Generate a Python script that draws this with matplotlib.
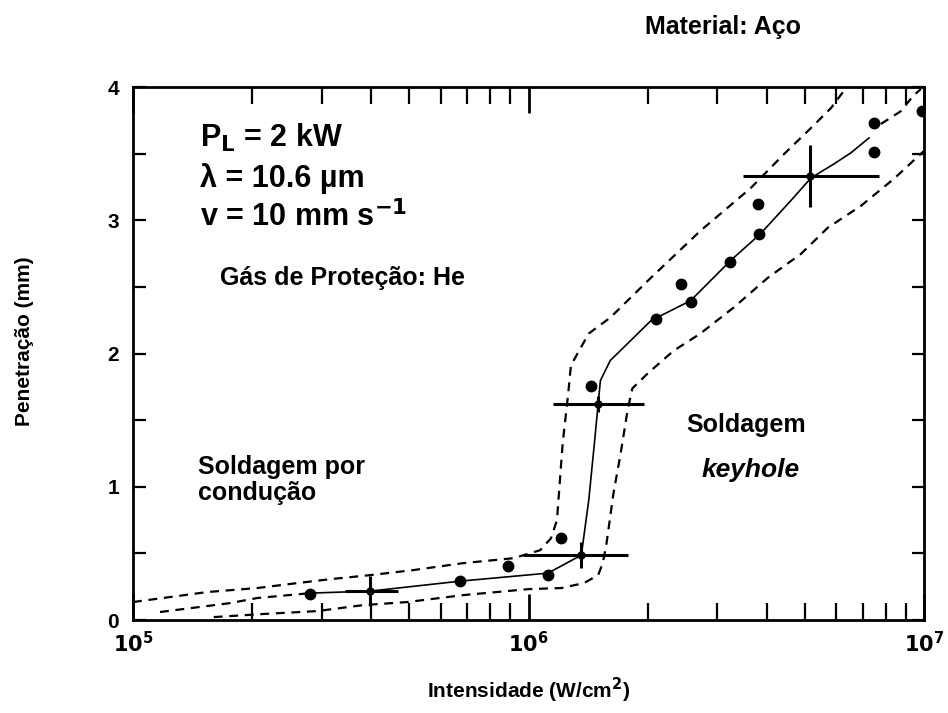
import matplotlib
matplotlib.use('Agg')
import matplotlib.pyplot as plt
from matplotlib.ticker import FixedLocator, NullFormatter

plt.rcParams['font.family'] = ['Liberation Sans', 'DejaVu Sans']
plt.rcParams['font.weight'] = 'bold'
plt.rcParams['mathtext.default'] = 'bf'

# pontos medidos
pt_int = [2.81e5, 6.73e5, 8.85e5, 1.12e6, 1.21e6, 1.44e6, 2.10e6, 2.43e6, 2.57e6,
          3.23e6, 3.82e6, 3.80e6, 7.47e6, 7.47e6, 9.89e6]
pt_pen = [0.195, 0.292, 0.404, 0.337, 0.614, 1.76, 2.26, 2.52, 2.39,
          2.69, 2.90, 3.12, 3.51, 3.73, 3.82]

# barras de erro
eb_int = [3.98e5, 1.36e6, 1.50e6, 5.14e6]
eb_lo = [3.44e5, 9.66e5, 1.15e6, 3.48e6]
eb_hi = [4.69e5, 1.78e6, 1.96e6, 7.69e6]
eb_pen = [0.217, 0.487, 1.625, 3.333]
eb_yerr = [0.11, 0.10, 0.06, 0.23]

# curva media
med_int = [2.81e5, 3.98e5, 6.73e5, 1.12e6, 1.36e6, 1.42e6, 1.47e6, 1.50e6, 1.52e6,
           1.61e6, 2.04e6, 2.57e6, 3.24e6, 3.86e6, 4.60e6, 5.18e6, 5.92e6, 6.53e6, 7.26e6]
med_pen = [0.202, 0.217, 0.292, 0.352, 0.487, 0.899, 1.348, 1.625, 1.798,
           1.948, 2.247, 2.397, 2.697, 2.899, 3.146, 3.318, 3.423, 3.506, 3.618]
ext_esq_int = [1.17e5, 1.76e5, 2.06e5, 2.81e5]
ext_esq_pen = [0.060, 0.127, 0.165, 0.202]
ext_dir_int = [7.78e6, 8.75e6, 9.38e6, 9.82e6]
ext_dir_pen = [3.723, 3.820, 3.933, 3.985]

# limites superior e inferior
sup_int = [1.00e5, 1.54e5, 2.06e5, 2.60e5, 3.16e5, 3.98e5, 5.12e5, 6.84e5, 9.16e5,
           1.07e6, 1.14e6, 1.18e6, 1.22e6, 1.26e6, 1.28e6, 1.33e6, 1.42e6, 1.61e6,
           2.04e6, 2.72e6, 3.65e6, 4.43e6, 5.18e6, 5.82e6, 6.35e6]
sup_pen = [0.135, 0.210, 0.240, 0.277, 0.307, 0.337, 0.375, 0.427, 0.464,
           0.524, 0.614, 0.749, 1.326, 1.700, 1.910, 2.000, 2.150, 2.270,
           2.569, 2.921, 3.243, 3.498, 3.693, 3.843, 3.993]
inf_int = [1.60e5, 2.13e5, 2.92e5, 3.82e5, 4.94e5, 6.84e5, 1.00e6, 1.21e6, 1.38e6,
           1.50e6, 1.54e6, 1.57e6, 1.64e6, 1.71e6, 1.78e6, 1.83e6, 2.00e6, 2.33e6,
           2.72e6, 3.30e6, 4.03e6, 4.89e6, 5.71e6, 6.93e6, 8.39e6, 1.00e7]
inf_pen = [0.022, 0.045, 0.067, 0.112, 0.135, 0.187, 0.232, 0.240, 0.277,
           0.337, 0.427, 0.547, 0.951, 1.251, 1.573, 1.738, 1.850, 2.022,
           2.150, 2.345, 2.569, 2.749, 2.944, 3.109, 3.311, 3.521]

fig = plt.figure(figsize=(9.48, 7.13), dpi=100)
ax = fig.add_axes([0.1403, 0.1304, 0.8344, 0.7475])

ax.plot(sup_int, sup_pen, color='black', lw=1.6, ls=(0, (4, 3)))
ax.plot(inf_int, inf_pen, color='black', lw=1.6, ls=(0, (4, 3)))
ax.plot(ext_esq_int, ext_esq_pen, color='black', lw=1.6, ls=(0, (4, 3)))
ax.plot(ext_dir_int, ext_dir_pen, color='black', lw=1.6, ls=(0, (4, 3)))
ax.plot(med_int, med_pen, color='black', lw=1.2)
ax.plot(pt_int, pt_pen, 'o', color='black', ms=7.5)

xerr = [[c - lo for c, lo in zip(eb_int, eb_lo)], [hi - c for c, hi in zip(eb_int, eb_hi)]]
ax.errorbar(eb_int, eb_pen, xerr=xerr, yerr=eb_yerr, fmt='o', color='black',
            ms=5, elinewidth=2.2, capsize=0)

ax.set_xscale('log')
ax.set_xlim(1e5, 1e7)
ax.set_ylim(0, 4)
ax.set_xticks([1e5, 1e6, 1e7])
ax.set_xticklabels(['$10^5$', '$10^6$', '$10^7$'])
ax.xaxis.set_minor_locator(FixedLocator([k * 10**e for e in (5, 6) for k in range(2, 10)]))
ax.xaxis.set_minor_formatter(NullFormatter())
ax.set_yticks([0, 1, 2, 3, 4])
ax.set_yticks([0.5, 1.5, 2.5, 3.5], minor=True)
ax.tick_params(axis='x', which='major', direction='in', length=19, width=2,
               top=True, bottom=True, labelsize=15, pad=8)
ax.tick_params(axis='x', which='minor', direction='in', length=12, width=1.6,
               top=True, bottom=True)
ax.tick_params(axis='y', which='both', direction='in', length=9, width=1.6,
               left=True, right=True, labelsize=15, pad=10)
for s in ax.spines.values():
    s.set_linewidth(2)

ax.set_xlabel('Intensidade (W/cm$^2$)', fontsize=15, fontweight='bold', labelpad=14)
ax.set_ylabel('Penetração (mm)', fontsize=15, fontweight='bold')
ax.yaxis.set_label_coords(-0.125, 0.523)

ax.text(0.085, 0.904, 'P$_L$ = 2 kW', transform=ax.transAxes, fontsize=22, va='center')
ax.text(0.085, 0.829, 'λ = 10.6 µm', transform=ax.transAxes, fontsize=22, va='center')
ax.text(0.085, 0.756, 'v = 10 mm s$^{-1}$', transform=ax.transAxes, fontsize=22, va='center')
ax.text(0.110, 0.642, 'Gás de Proteção: He', transform=ax.transAxes, fontsize=18, va='center')
ax.text(0.082, 0.263, 'Soldagem por\ncondução', transform=ax.transAxes, fontsize=18,
        va='center', linespacing=1.1)
ax.text(0.775, 0.366, 'Soldagem', transform=ax.transAxes, fontsize=18, ha='center', va='center')
ax.text(0.781, 0.281, 'keyhole', transform=ax.transAxes, fontsize=19, ha='center',
        va='center', style='italic')
fig.text(0.763, 0.962, 'Material: Aço', fontsize=18, ha='center', va='center')

plt.savefig('out.png', dpi=100)
